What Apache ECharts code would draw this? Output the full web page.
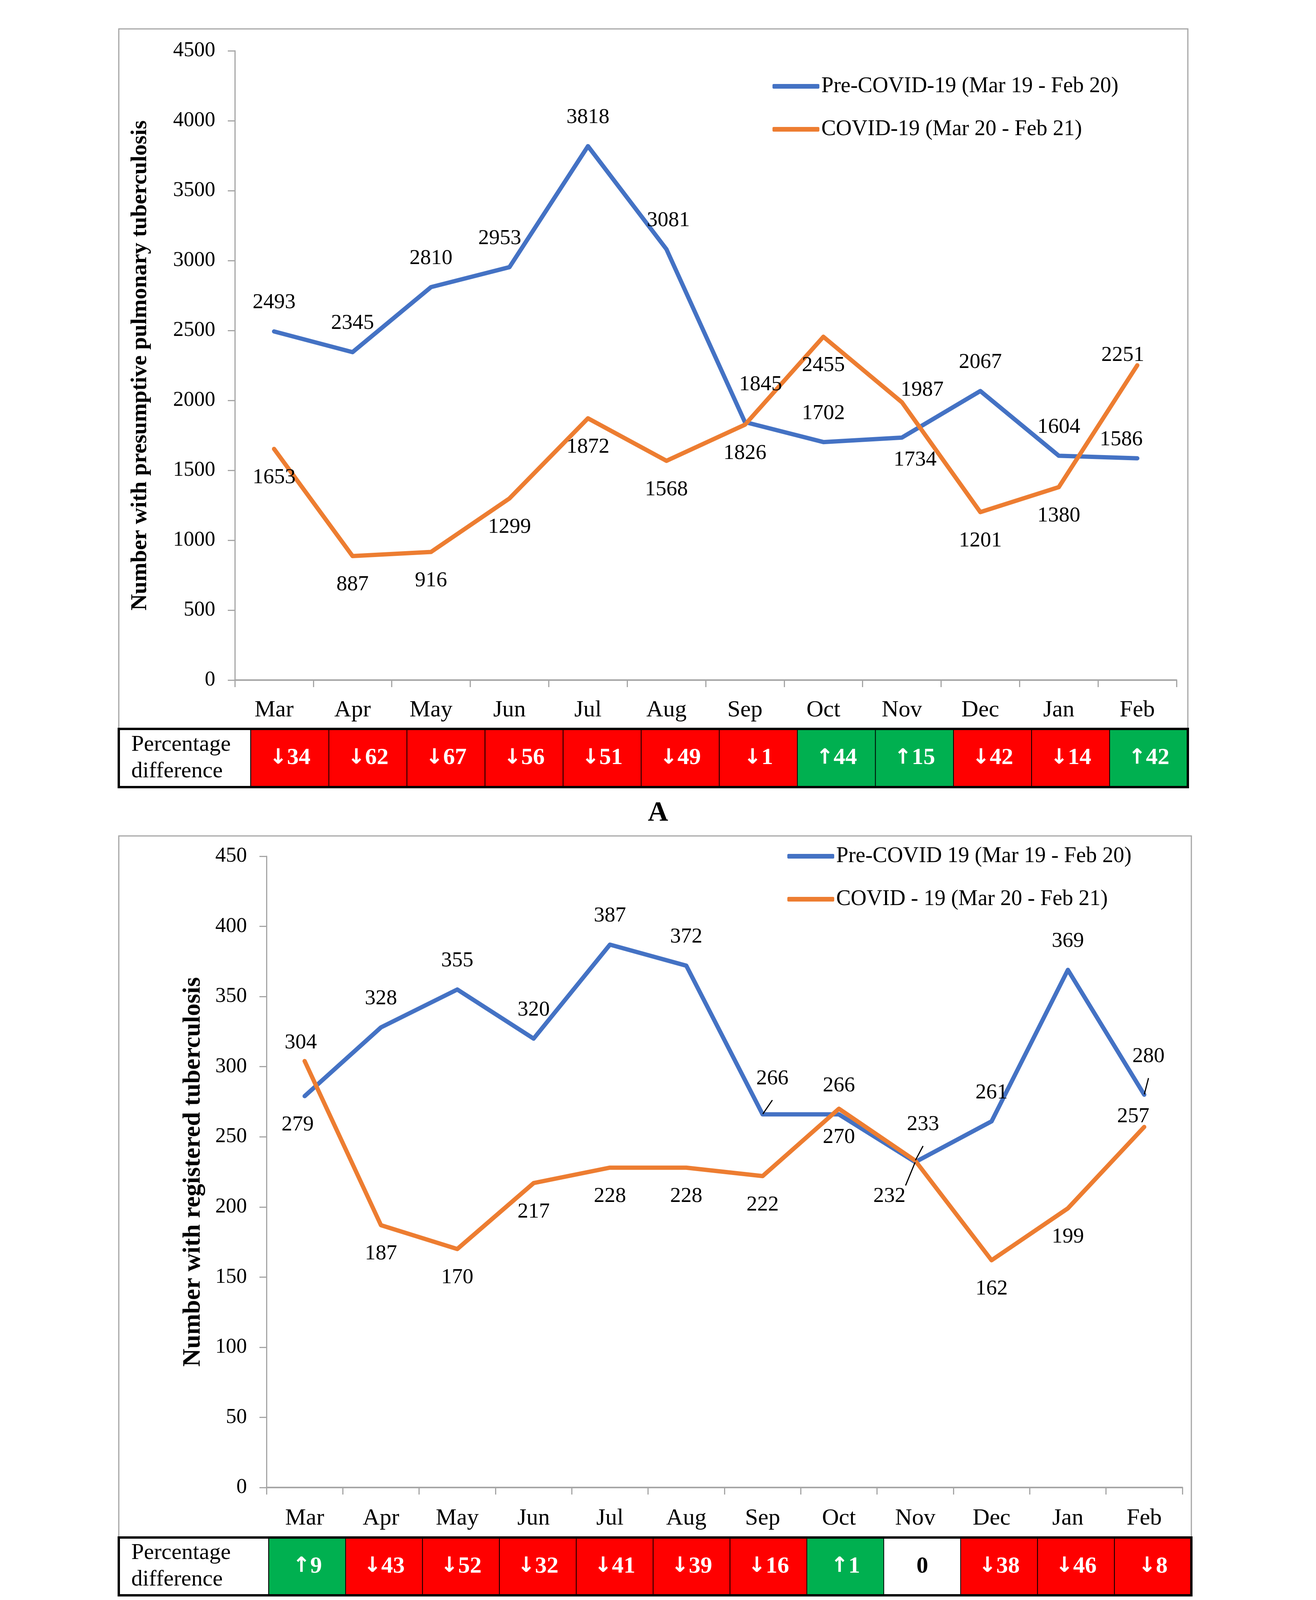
<!DOCTYPE html>
<html>
<head>
<meta charset="utf-8">
<script src="https://cdn.jsdelivr.net/npm/echarts/dist/echarts.min.js"></script>
<style>
html,body{margin:0;padding:0;background:#fff;}
#chart{position:absolute;left:0;top:0;width:3368px;height:4976px;}
</style>
</head>
<body>
<div id="chart"></div>
<script>
// ---------------- DATA ----------------
const months = ['Mar','Apr','May','Jun','Jul','Aug','Sep','Oct','Nov','Dec','Jan','Feb'];

const presumptivePre   = [2493,2345,2810,2953,3818,3081,1845,1702,1734,2067,1604,1586];
const presumptiveCovid = [1653, 887, 916,1299,1872,1568,1826,2455,1987,1201,1380,2251];
const presumptivePct   = [-34,-62,-67,-56,-51,-49,-1,44,15,-42,-14,42];

const registeredPre    = [279,328,355,320,387,372,266,266,232,261,369,280];
const registeredCovid  = [304,187,170,217,228,228,222,270,233,162,199,257];
const registeredPct    = [9,-43,-52,-32,-41,-39,-16,1,0,-38,-46,-8];

const seriesNamesA = ['Pre-COVID-19 (Mar 19 - Feb 20)', 'COVID-19 (Mar 20 - Feb 21)'];
const seriesNamesB = ['Pre-COVID 19 (Mar 19 - Feb 20)', 'COVID - 19 (Mar 20 - Feb 21)'];
const yTitleA = 'Number with presumptive pulmonary tuberculosis';
const yTitleB = 'Number with registered tuberculosis';
const tableHeader = 'Percentage\ndifference';
const panelLetters = ['A', 'B'];

const paragraphLines = [
  'Interventions applied from August 2020 onwards to counteract the decline in numbers included: (i)',
  'integrated screening and fast-tracking of investigations for TB and COVID-19 in patients presenting',
  'with respiratory symptoms; (ii) active TB case finding in hot spots in the city; (iii) enhanced TB case',
  'finding that included screening of TB through mobile phones using a dedicated USSD dialing code,',
  'asking patients to dial into a toll-free TB screening call center staffed by healthcare workers and use',
  'of automated TB screening machines positioned at strategic spots in the community; (iv) active trac-',
  'ing of close contacts of index patients; and (v) improved TB screening among people living with',
  'HIV.'
];

// ---------------- STYLE (label placement per point) ----------------
const T = ['top',0,0], Bo = ['bottom',0,0];
const placePresPre   = [T,T,T,['top',-25,0],T,['top',5,0],['top',40,-22],T,['bottom',34,-16],T,T,['top',-41,26]];
const placePresCovid = [Bo,Bo,Bo,Bo,Bo,Bo,Bo,Bo,['top',52,42],Bo,Bo,['top',-37,48]];
const placeRegPre    = [['bottom',-18,0],T,T,T,T,T,['top',25,-18,1],T,['bottom',-66,14,1],T,T,['top',11,-24,1]];
const placeRegCovid  = [['top',-10,27],Bo,Bo,Bo,Bo,Bo,Bo,Bo,['top',20,-19,1],Bo,Bo,['top',-28,47]];

const FONT = "'Liberation Serif', 'Times New Roman', serif";
const ARROW_FONT = "'DejaVu Sans', 'Liberation Sans', sans-serif";
const BLUE = '#4472C4', ORANGE = '#ED7D31', RED = '#FF0000', GREEN = '#00B050', AXIS = '#A6A6A6';

function lineData(values, places) {
  return values.map((v, i) => {
    const p = places[i];
    const item = { value: v, label: { position: p[0], offset: [p[1], p[2]] } };
    if (p[3]) item.labelLine = { show: true, lineStyle: { color: '#000', width: 3 } };
    return item;
  });
}
function pctData(values) {
  return values.map((v, i) => ({
    value: [i, 0, v],
    itemStyle: { color: v < 0 ? RED : (v > 0 ? GREEN : '#ffffff') },
    label: { color: v === 0 ? '#000' : '#fff' }
  }));
}
function pctText(p) {
  const v = p.value[2];
  return v < 0 ? '{a|\u2193}{n|' + (-v) + '}' : (v > 0 ? '{a|\u2191}{n|' + v + '}' : '{z|0}');
}

// layout
const L = {
  A: { frame: [304, 74, 3040, 1866], grid: [601, 130, 3011, 1741], table: [642, 1866, 3040, 2015], nameGap: 213, titleSize: 58, letterY: 2082 },
  B: { frame: [304, 2140, 3049, 3936], grid: [682, 2192, 3026, 3808], table: [688, 3936, 3049, 4084], nameGap: 156, titleSize: 64, letterY: 4154 }
};
const PARA = { left: 32, right: 3336, firstBaseline: 4257, lineStep: 97.3, fontSize: 74 };

function gridOf(r) { return { left: r[0], top: r[1], width: r[2] - r[0], height: r[3] - r[1], outerBoundsMode: 'none', containLabel: false, show: false }; }

function lineSeries(name, values, places, color, axisIdx) {
  return {
    type: 'line', name, xAxisIndex: axisIdx, yAxisIndex: axisIdx,
    data: lineData(values, places),
    symbol: 'circle', symbolSize: 2, showSymbol: true,
    lineStyle: { color, width: 11, cap: 'round', join: 'round' },
    itemStyle: { color },
    label: { show: true, distance: 45, fontSize: 55, fontFamily: FONT, color: '#000' },
    labelLine: { show: false },
    emphasis: { disabled: true },
    z: 3
  };
}
function heatSeries(values, axisIdx) {
  return {
    type: 'heatmap', xAxisIndex: axisIdx, yAxisIndex: axisIdx,
    data: pctData(values),
    itemStyle: { borderColor: '#000', borderWidth: 2 },
    label: {
      show: true, formatter: pctText, fontSize: 58, fontWeight: 'bold', fontFamily: FONT,
      rich: {
        a: { fontFamily: ARROW_FONT, fontWeight: 'bold', fontSize: 54 },
        n: { fontFamily: FONT, fontWeight: 'bold', fontSize: 60 },
        z: { fontFamily: FONT, fontWeight: 'bold', fontSize: 60 }
      }
    },
    emphasis: { disabled: true }
  };
}
function valueAxis(idx, max, interval, name, size, gap) {
  return {
    gridIndex: idx, type: 'value', min: 0, max, interval,
    name, nameLocation: 'middle', nameGap: gap,
    nameTextStyle: { fontSize: size, fontWeight: 'bold', fontFamily: FONT, color: '#000' },
    axisLine: { show: true, lineStyle: { color: AXIS, width: 3 } },
    axisTick: { show: true, length: 18, lineStyle: { color: AXIS, width: 3 } },
    axisLabel: { fontSize: 54, fontFamily: FONT, color: '#000', margin: 50, formatter: v => String(v) },
    splitLine: { show: false }
  };
}
function catAxis(idx, margin) {
  return {
    gridIndex: idx, type: 'category', data: months, boundaryGap: true,
    axisLine: { show: true, lineStyle: { color: AXIS, width: 4 } },
    axisTick: { show: true, length: 18, lineStyle: { color: AXIS, width: 3 } },
    axisLabel: { interval: 0, fontSize: 60, fontFamily: FONT, color: '#000', margin },
    splitLine: { show: false }
  };
}
function hiddenCat(idx, data) { return { gridIndex: idx, type: 'category', data, show: false }; }

function frameGraphics(l) {
  const f = l.frame, t = l.table;
  return [
    { type: 'rect', shape: { x: f[0], y: f[1], width: f[2] - f[0], height: f[3] - f[1] }, style: { fill: 'none', stroke: AXIS, lineWidth: 3 }, z: 1, silent: true },
    { type: 'rect', shape: { x: f[0], y: t[1], width: t[0] - f[0], height: t[3] - t[1] }, style: { fill: '#fff', stroke: '#000', lineWidth: 3 }, z: 1, silent: true },
    { type: 'text', x: f[0] + 32, y: (t[1] + t[3]) / 2, style: { text: tableHeader, fontSize: 58, fontFamily: FONT, fill: '#000', textAlign: 'left', textVerticalAlign: 'middle', lineHeight: 68 }, z: 2, silent: true },
    { type: 'rect', shape: { x: f[0], y: t[1], width: t[2] - f[0], height: t[3] - t[1] }, style: { fill: 'none', stroke: '#000', lineWidth: 6 }, z: 100, silent: true }
  ];
}

// justified paragraph, drawn word by word with measured widths
function paragraphGraphics() {
  const ctx = document.createElement('canvas').getContext('2d');
  ctx.font = PARA.fontSize + "px 'Liberation Serif'";
  const out = [];
  const width = PARA.right - PARA.left;
  const baseShift = 0.3375 * PARA.fontSize; // alphabetic baseline vs. middle
  paragraphLines.forEach((line, li) => {
    const words = line.split(' ');
    const widths = words.map(w => ctx.measureText(w).width);
    const total = widths.reduce((a, b) => a + b, 0);
    const last = li === paragraphLines.length - 1;
    const gap = (last || words.length < 2) ? ctx.measureText(' ').width : (width - total) / (words.length - 1);
    let x = PARA.left;
    const y = PARA.firstBaseline + li * PARA.lineStep - baseShift;
    words.forEach((w, wi) => {
      out.push({ type: 'text', x, y, silent: true, z: 5,
        style: { text: w, fontSize: PARA.fontSize, fontFamily: FONT, fill: '#000', textAlign: 'left', textVerticalAlign: 'middle' } });
      x += widths[wi] + gap;
    });
  });
  return out;
}

const option = {
  animation: false,
  backgroundColor: '#fff',
  title: [
    { text: panelLetters[0], left: 'center', top: L.A.letterY - 36, padding: 0, textStyle: { fontSize: 72, fontWeight: 'bold', fontFamily: FONT, color: '#000' } },
    { text: panelLetters[1], left: 'center', top: L.B.letterY - 36, padding: 0, textStyle: { fontSize: 72, fontWeight: 'bold', fontFamily: FONT, color: '#000' } }
  ],
  legend: [
    { data: seriesNamesA, orient: 'vertical', left: 1977, top: 191, itemWidth: 120, itemHeight: 12, itemGap: 50, icon: 'roundRect', padding: 0,
      textStyle: { fontSize: 56, fontFamily: FONT, color: '#000', lineHeight: 60 }, selectedMode: false },
    { data: seriesNamesB, orient: 'vertical', left: 2015, top: 2162, itemWidth: 120, itemHeight: 12, itemGap: 50, icon: 'roundRect', padding: 0,
      textStyle: { fontSize: 56, fontFamily: FONT, color: '#000', lineHeight: 60 }, selectedMode: false }
  ],
  grid: [gridOf(L.A.grid), gridOf(L.A.table), gridOf(L.B.grid), gridOf(L.B.table)],
  xAxis: [catAxis(0, 47), hiddenCat(1, months), catAxis(2, 49), hiddenCat(3, months)],
  yAxis: [
    valueAxis(0, 4500, 500, yTitleA, L.A.titleSize, L.A.nameGap),
    hiddenCat(1, ['pct']),
    valueAxis(2, 450, 50, yTitleB, L.B.titleSize, L.B.nameGap),
    hiddenCat(3, ['pct'])
  ],
  graphic: [].concat(frameGraphics(L.A), frameGraphics(L.B), paragraphGraphics()),
  series: [
    lineSeries(seriesNamesA[0], presumptivePre, placePresPre, BLUE, 0),
    lineSeries(seriesNamesA[1], presumptiveCovid, placePresCovid, ORANGE, 0),
    heatSeries(presumptivePct, 1),
    lineSeries(seriesNamesB[0], registeredPre, placeRegPre, BLUE, 2),
    lineSeries(seriesNamesB[1], registeredCovid, placeRegCovid, ORANGE, 2),
    heatSeries(registeredPct, 3)
  ]
};

const chart = echarts.init(document.getElementById('chart'), null, { renderer: 'canvas', devicePixelRatio: 1 });
chart.setOption(option);
</script>
</body>
</html>
